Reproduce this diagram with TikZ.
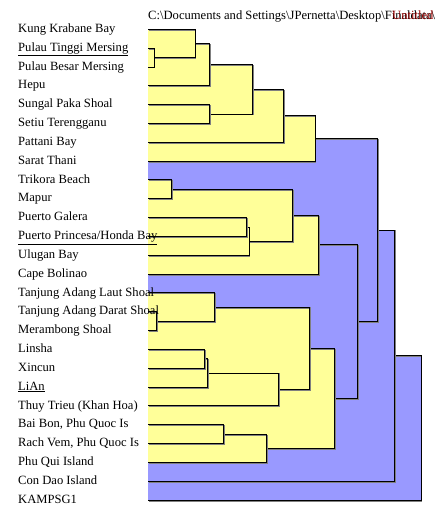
\documentclass[tikz,border=0pt]{standalone}
\usepackage{fontspec}
\setmainfont{Liberation Serif}
\definecolor{yel}{HTML}{FFFF99}
\definecolor{blu}{HTML}{9999FF}
\definecolor{dred}{HTML}{990000}
\newcommand{\clus}[4]{%
  \fill[#4] (148,#2) rectangle (#1,#3);
  \draw[shadowline] ([shift={(0.9,0.9)}]148,#2) -- ([shift={(0.9,0.9)}]#1,#2) -- ([shift={(0.9,0.9)}]#1,#3) -- ([shift={(0.9,0.9)}]148,#3);
  \draw[edgeline] (148,#2) -- (#1,#2) -- (#1,#3) -- (148,#3);
}
\begin{document}
\begin{tikzpicture}[x=1pt,y=-1pt,
  lbl/.style={anchor=base west,inner sep=0pt,font=\fontsize{12.6}{14}\selectfont},
  shadowline/.style={draw=black!50,line width=1.1pt},
  edgeline/.style={draw=black,line width=0.9pt}]
\useasboundingbox (0,0) rectangle (441,509);
\fill[white] (0,0) rectangle (441,509);
% blue clusters (outer)
\clus{421}{355.6}{500.05}{blu}
\clus{394.3}{229.97}{481.22}{blu}
\clus{377.7}{138.46}{321.47}{blu}
\clus{357.3}{244.67}{398.26}{blu}
% yellow clusters
\clus{315}{115.8}{161.11}{yel}
\clus{283.3}{89.33}{142.28}{yel}
\clus{252.3}{64.61}{114.04}{yel}
\clus{209.3}{43.43}{85.79}{yel}
\clus{209.3}{104.62}{123.45}{yel}
\clus{195}{29.3}{57.55}{yel}
\clus{154}{48.13}{66.96}{yel}
\clus{318.3}{215.25}{274.09}{yel}
\clus{292.7}{189.36}{241.14}{yel}
\clus{249}{227.02}{255.26}{yel}
\clus{246.7}{217.6}{236.43}{yel}
\clus{171.7}{179.94}{198.77}{yel}
\clus{334.3}{348.24}{448.27}{yel}
\clus{309.3}{307.05}{389.43}{yel}
\clus{278.3}{372.95}{405.9}{yel}
\clus{266.7}{434.15}{462.39}{yel}
\clus{223.3}{424.73}{443.56}{yel}
\clus{214.3}{292.92}{321.17}{yel}
\clus{207.7}{358.83}{387.07}{yel}
\clus{204.3}{349.41}{368.24}{yel}
\clus{156.3}{311.75}{330.58}{yel}
% labels
\node[lbl] (l1) at (18,32.5) {Kung Krabane Bay};
\node[lbl] (l2) at (18,51.33) {\underline{Pulau Tinggi Mersing}};
\node[lbl] (l3) at (18,70.16) {Pulau Besar Mersing};
\node[lbl] (l4) at (18,88.99) {Hepu};
\node[lbl] (l5) at (18,107.82) {Sungal Paka Shoal};
\node[lbl] (l6) at (18,126.65) {Setiu Terengganu};
\node[lbl] (l7) at (18,145.48) {Pattani Bay};
\node[lbl] (l8) at (18,164.31) {Sarat Thani};
\node[lbl] (l9) at (18,183.14) {Trikora Beach};
\node[lbl] (l10) at (18,201.97) {Mapur};
\node[lbl] (l11) at (18,220.8) {Puerto Galera};
\node[lbl] (l12) at (18,239.63) {\underline{Puerto Princesa/Honda Bay}};
\node[lbl] (l13) at (18,258.46) {Ulugan Bay};
\node[lbl] (l14) at (18,277.29) {Cape Bolinao};
\node[lbl] (l15) at (18,296.12) {Tanjung Adang Laut Shoal};
\node[lbl] (l16) at (18,314.95) {Tanjung Adang Darat Shoal};
\node[lbl] (l17) at (18,333.78) {Merambong Shoal};
\node[lbl] (l18) at (18,352.61) {Linsha};
\node[lbl] (l19) at (18,371.44) {Xincun};
\node[lbl] (l20) at (18,390.27) {\underline{LiAn}};
\node[lbl] (l21) at (18,409.1) {Thuy Trieu (Khan Hoa)};
\node[lbl] (l22) at (18,427.93) {Bai Bon, Phu Quoc Is};
\node[lbl] (l23) at (18,446.76) {Rach Vem, Phu Quoc Is};
\node[lbl] (l24) at (18,465.59) {Phu Qui Island};
\node[lbl] (l25) at (18,484.42) {Con Dao Island};
\node[lbl] (l26) at (18,503.25) {KAMPSG1};
% title
\node[lbl] (title) at (148,19) {C:\textbackslash Documents and Settings\textbackslash JPernetta\textbackslash Desktop\textbackslash Finaldata\textbackslash};
\node[lbl,text=dred] (red) at (392,19.5) {Untitled};
\end{tikzpicture}
\end{document}
